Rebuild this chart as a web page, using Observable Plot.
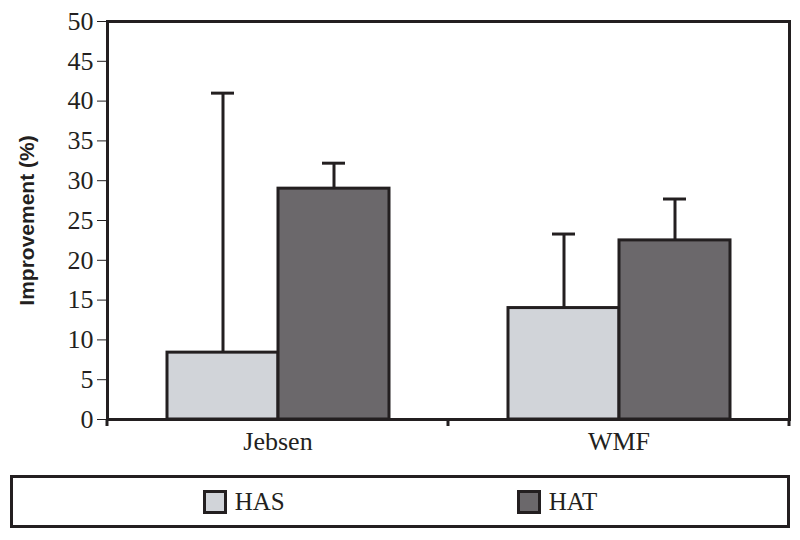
<!DOCTYPE html>
<html>
<head>
<meta charset="utf-8">
<script src="https://cdn.jsdelivr.net/npm/d3@7"></script>
<script src="https://cdn.jsdelivr.net/npm/@observablehq/plot@0.6"></script>
<style>
  html, body { margin: 0; padding: 0; background: #fff; }
  #wrap { width: 800px; height: 540px; position: relative; }
  #legend {
    position: absolute; left: 10px; top: 475px; width: 774px; height: 47px;
    border: 3px solid #231f20; display: flex; justify-content: center; align-items: center;
    gap: 232px; font-family: "Liberation Serif", serif; font-size: 25px; color: #231f20;
  }
  .item { display: flex; align-items: center; gap: 8px; }
  .sw { width: 18px; height: 18px; border: 3px solid #231f20; }
</style>
</head>
<body>
<div id="wrap">
  <div id="chart"></div>
  <div id="legend"></div>
</div>
<script>
const categories = ["Jebsen", "WMF"];
const series = ["HAS", "HAT"];
const hasValues = [8.4, 14.0];
const hatValues = [29.0, 22.5];
const hasErrors = [32.6, 9.3];
const hatErrors = [3.2, 5.2];
const yTicks = [0, 5, 10, 15, 20, 25, 30, 35, 40, 45, 50];
const seriesColors = ["#d1d4d9", "#6b686b"];
const yLabel = "Improvement (%)";

const rows = [];
categories.forEach((c, i) => {
  rows.push({category: c, series: "HAS", value: hasValues[i], err: hasErrors[i]});
  rows.push({category: c, series: "HAT", value: hatValues[i], err: hatErrors[i]});
});

const ink = "#231f20";

const plot = Plot.plot({
  width: 800,
  height: 462,
  marginLeft: 107,
  marginRight: 11,
  marginTop: 21,
  marginBottom: 43,
  style: {fontFamily: "'Liberation Serif', serif", fontSize: "26px", color: ink, background: "#fff"},
  fx: {domain: categories, padding: 0, label: null, axis: "bottom", tickSize: 0, tickPadding: 12},
  x: {domain: series, axis: null, paddingInner: 0, paddingOuter: 0.536},
  y: {domain: [0, 50], ticks: yTicks, tickSize: 10, tickPadding: 4, label: yLabel, labelArrow: "none", labelAnchor: "center", labelOffset: 88},
  color: {domain: series, range: seriesColors},
  marks: [
    Plot.ruleX(rows, {fx: "category", x: "series", y1: "value", y2: d => d.value + d.err, stroke: ink, strokeWidth: 3}),
    Plot.tickY(rows, {fx: "category", x: "series", y: d => d.value + d.err, stroke: ink, strokeWidth: 3, insetLeft: 44, insetRight: 44}),
    Plot.barY(rows, {fx: "category", x: "series", y: "value", fill: "series", stroke: ink, strokeWidth: 3}),
    Plot.frame({facet: "super", stroke: ink, strokeWidth: 3})
  ]
});

// boundary ticks below the baseline, from the fx scale
const fx = plot.scale("fx");
const ys = plot.scale("y");
const y0 = ys.apply(0);
const edges = categories.map(c => fx.apply(c));
edges.push(fx.apply(categories[categories.length - 1]) + fx.bandwidth);
const svg = d3.select(plot.tagName.toLowerCase() === "svg" ? plot : plot.querySelector("svg"));
svg.append("g").attr("stroke", ink).attr("stroke-width", 3)
  .selectAll("line").data(edges).join("line")
  .attr("x1", d => d).attr("x2", d => d).attr("y1", y0).attr("y2", y0 + 7);

// y label styling
const lab = svg.selectAll("[aria-label='y-axis label']");
lab.attr("font-family", "'Liberation Sans', sans-serif").attr("font-weight", "bold").attr("font-size", 21);
lab.selectAll("text").text(yLabel).attr("font-size", 21);

document.getElementById("chart").appendChild(plot);

const legend = d3.select("#legend");
series.forEach((s, i) => {
  const it = legend.append("div").attr("class", "item");
  it.append("div").attr("class", "sw").style("background", seriesColors[i]);
  it.append("span").text(s);
});
</script>
</body>
</html>
